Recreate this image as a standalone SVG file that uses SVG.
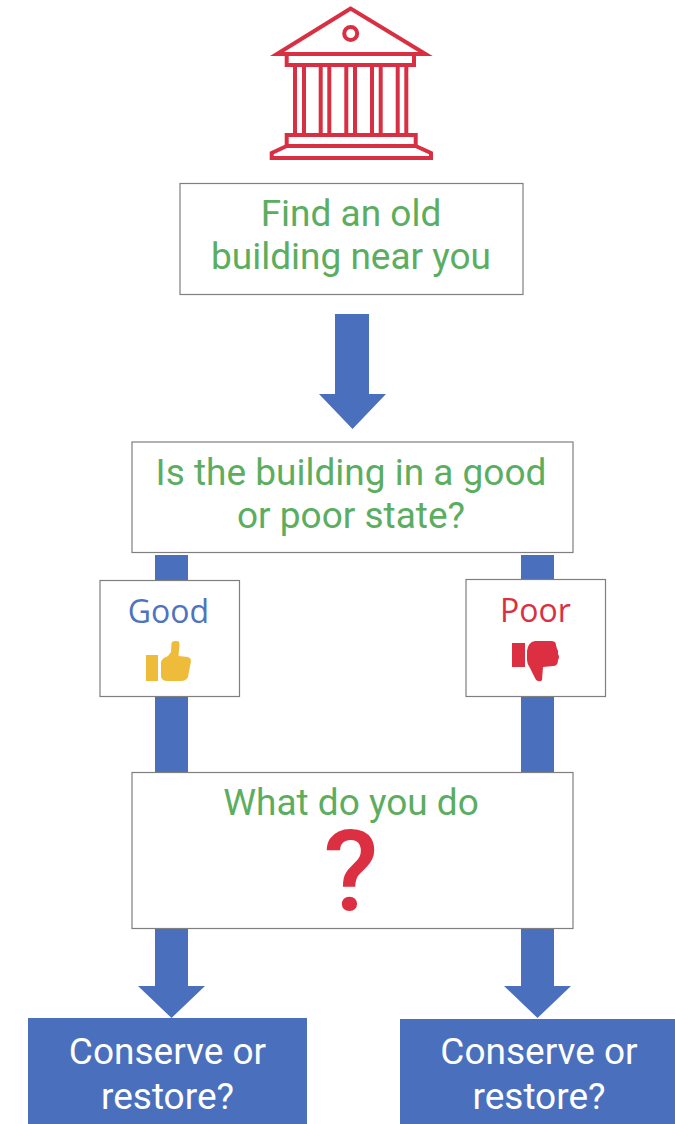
<svg xmlns="http://www.w3.org/2000/svg" width="675" height="1124" viewBox="0 0 675 1124">
<style>
.box{fill:#fff;stroke:#7f7f7f;stroke-width:1.2}
.flow{fill:#4a70bd}
.t{font-family:Roboto,"Liberation Sans",sans-serif;text-anchor:middle;font-size:37px}
.g{fill:#5bad5f}
.w{fill:#fff}
.s{font-family:"Open Sans","Noto Sans",sans-serif;text-anchor:middle;font-size:32px}
.temple{fill:none;stroke:#d92f42;stroke-width:4;stroke-linejoin:miter}
</style>
<rect width="675" height="1124" fill="#fff"/>
<g id="connectors">
<path class="flow" d="M335 314H369V394H386L352.500 429L319 394H335Z"/>
<rect class="flow" x="155" y="555" width="33" height="220"/>
<rect class="flow" x="521" y="555" width="33" height="220"/>
<path class="flow" d="M155 926H188V986H205L171.500 1018L138 986H155Z"/>
<path class="flow" d="M521 926H554V986H571L537.500 1018L504 986H521Z"/>
</g>
<g id="icon-building" class="temple">
<path d="M350.700 8.500L277 54H425.500Z"/>
<circle cx="350.700" cy="33.500" r="6.500"/>
<path d="M286.700 54V65H414V54"/>
<path d="M295 65V135M304 65V135M320.700 65V135M329.300 65V135M346.300 65V135M355 65V135M372 65V135M380.700 65V135M397.700 65V135M406.300 65V135"/>
<path d="M286.700 135H415.700V146H286.700Z"/>
<path d="M286.700 146L271.700 153V158H431V153L415.700 146"/>
</g>
<g id="node-find">
<rect class="box" x="180" y="183.500" width="343" height="111"/>
<text class="t g" x="351" y="226">Find an old</text>
<text class="t g" x="351" y="269">building near you</text>
</g>
<g id="node-state">
<rect class="box" x="132" y="442" width="441" height="110.500"/>
<text class="t g" x="351" y="485">Is the building in a good</text>
<text class="t g" x="351" y="528">or poor state?</text>
</g>
<g id="node-good">
<rect class="box" x="100" y="580.500" width="139.500" height="116"/>
<text class="s" x="168.500" y="623" fill="#4f73be">Good</text>
<g fill="#efbb3a">
<rect x="146" y="655" width="12" height="26"/>
<path d="M161 662Q162 658 168 656L171 652L171.500 643Q172 641 175 641L177 641Q179.500 641 179.500 644L178.500 656L188 657Q191 658 191 661L188 677Q186 681 181 681L168 681Q161 681 161 676Z"/>
</g>
</g>
<g id="node-poor">
<rect class="box" x="466" y="579.500" width="139.500" height="117"/>
<text class="s" x="535.500" y="622" fill="#dc2f42">Poor</text>
<g fill="#dc2f42">
<rect x="512" y="643" width="13" height="24"/>
<path d="M527 651Q528 642 535 641L551 641Q556 641 556 645L557 649Q559 651 558 654Q560 657 558 660Q558 666 553 666L543 667L542 680Q541 682 538 681Q536 681 535 678L530 668Q527 664 527 660Z"/>
</g>
</g>
<g id="node-do">
<rect class="box" x="132" y="772.500" width="441" height="156"/>
<text class="t g" x="351" y="815">What do you do</text>
<text x="351" y="910" font-family="Roboto,'Liberation Sans',sans-serif" font-weight="500" font-size="113" text-anchor="middle" fill="#dc2f42">?</text>
</g>
<g id="node-left">
<rect class="flow" x="28" y="1018" width="279" height="106"/>
<text class="t w" x="167.500" y="1064">Conserve or</text>
<text class="t w" x="167.500" y="1109">restore?</text>
</g>
<g id="node-right">
<rect class="flow" x="400" y="1019" width="275" height="105"/>
<text class="t w" x="539" y="1064">Conserve or</text>
<text class="t w" x="539" y="1109">restore?</text>
</g>
</svg>
